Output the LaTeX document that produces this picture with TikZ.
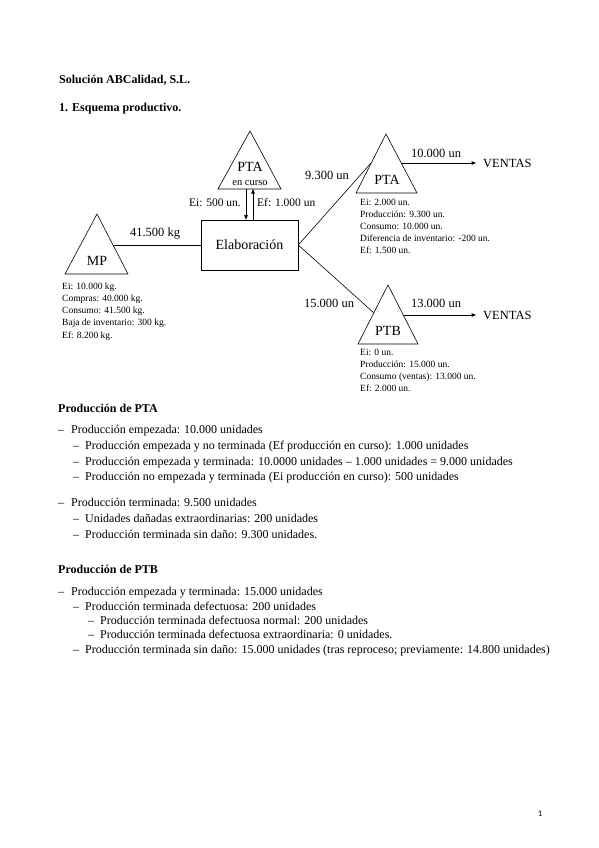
\documentclass[tikz,border=0pt]{standalone}
\usepackage{fontspec}
\setmainfont{Liberation Serif}
\newfontfamily\pagefont{Carlito}
\usetikzlibrary{arrows.meta}
\newcommand{\itemdash}[1]{\makebox[#1][l]{–}}
\begin{document}
\begin{tikzpicture}[x=1pt,y=-1pt,
  lbl/.style={font=\fontsize{12.5}{14}\selectfont, inner sep=0pt},
  small/.style={font=\fontsize{11.5}{13}\selectfont, inner sep=0pt},
  big/.style={font=\fontsize{14}{16}\selectfont, inner sep=0pt},
  tri/.style={draw, line width=0.6pt, line join=miter},
  info/.style={font=\fontsize{9.5}{12.2}\selectfont, align=left, anchor=north west, inner sep=0pt},
  body/.style={font=\fontsize{12}{14}\selectfont, anchor=base west, inner sep=0pt},
  head/.style={font=\bfseries\fontsize{12}{14}\selectfont, anchor=base west, inner sep=0pt},
  conn/.style={line width=0.6pt},
  arr/.style={-{Triangle[length=4.5pt,width=3.5pt]}}]
\useasboundingbox (0,0) rectangle (599,848);

% headings
\node[head] (title) at (59,84) {Solución ABCalidad, S.L.};
\node[head] (sec1) at (59,112) {1.\hspace{4pt}Esquema productivo.};

% MP
\draw[tri] (97,214) -- (128,274) -- (65,274) -- cycle;
\node[big] (mp) at (97,261) {MP};
\coordinate (mpout) at (113,245);
\node[info] (mpinfo) at (62,282.5) {Ei: 10.000 kg.\\Compras: 40.000 kg.\\Consumo: 41.500 kg.\\Baja de inventario: 300 kg.\\Ef: 8.200 kg.};

% Elaboracion
\node[draw, line width=0.6pt, minimum width=97pt, minimum height=50pt, big] (elab) at (249.5,245) {Elaboración};
\draw[conn] (mpout) -- (elab.west);
\node[lbl] (l41) at (155,234) {41.500 kg};

% PTA en curso
\draw[tri] (250,131) -- (281,189) -- (218,189) -- cycle;
\node[big] (ptac) at (250,167) {PTA};
\node[font=\fontsize{10.5}{12}\selectfont, inner sep=0pt] (encurso) at (250,183) {en curso};
\coordinate (ptacb1) at (246,189);
\coordinate (ptacb2) at (253,189);
\draw[conn,arr] (ptacb1) -- (elab.north -| ptacb1);
\draw[conn,arr] (elab.north -| ptacb2) -- (ptacb2);
\node[small, anchor=east] (ei) at (241,203) {Ei: 500 un.};
\node[small, anchor=west] (ef) at (257,203) {Ef: 1.000 un};

% PTA
\draw[tri] (386,134) -- (417,193) -- (356,193) -- cycle;
\node[big] (pta) at (387,180) {PTA};
\coordinate (ptain) at (371,163);
\draw[conn] (elab.east) -- (ptain);
\node[lbl] (l93) at (327,175) {9.300 un};
\coordinate (ptaout) at (401,163);
\coordinate (v1) at (476,163);
\draw[conn,arr] (ptaout) -- (v1);
\node[lbl, anchor=west] (ventas1) at (483,163) {VENTAS};
\node[lbl] (l10) at (436,153) {10.000 un};
\node[info] (ptainfo) at (360,198.5) {Ei: 2.000 un.\\Producción: 9.300 un.\\Consumo: 10.000 un.\\Diferencia de inventario: -200 un.\\Ef: 1.500 un.};

% PTB
\draw[tri] (388,285) -- (418,344) -- (358,344) -- cycle;
\node[big] (ptb) at (388,331) {PTB};
\coordinate (ptbin) at (374,313);
\draw[conn] (elab.east) -- (ptbin);
\node[lbl] (l15) at (329,303) {15.000 un};
\coordinate (ptbout) at (403,315);
\coordinate (v2) at (476,315);
\draw[conn,arr] (ptbout) -- (v2);
\node[lbl, anchor=west] (ventas2) at (483,315) {VENTAS};
\node[lbl] (l13) at (436,303) {13.000 un};
\node[info] (ptbinfo) at (360,348.5) {Ei: 0 un.\\Producción: 15.000 un.\\Consumo (ventas): 13.000 un.\\Ef: 2.000 un.};

% Produccion de PTA
\node[head] (hpta) at (58,412) {Producción de PTA};
\node[body] (a1) at (58,433) {\itemdash{13pt}Producción empezada: 10.000 unidades};
\node[body] (a2) at (73,449) {\itemdash{12pt}Producción empezada y no terminada (Ef producción en curso): 1.000 unidades};
\node[body] (a3) at (73,465) {\itemdash{12pt}Producción empezada y terminada: 10.0000 unidades – 1.000 unidades = 9.000 unidades};
\node[body] (a4) at (73,480) {\itemdash{12pt}Producción no empezada y terminada (Ei producción en curso): 500 unidades};
\node[body] (a5) at (58,506) {\itemdash{13pt}Producción terminada: 9.500 unidades};
\node[body] (a6) at (73,522) {\itemdash{12pt}Unidades dañadas extraordinarias: 200 unidades};
\node[body] (a7) at (73,538) {\itemdash{12pt}Producción terminada sin daño: 9.300 unidades.};

% Produccion de PTB
\node[head] (hptb) at (58,573) {Producción de PTB};
\node[body] (b1) at (58,595) {\itemdash{13pt}Producción empezada y terminada: 15.000 unidades};
\node[body] (b2) at (73,610) {\itemdash{12pt}Producción terminada defectuosa: 200 unidades};
\node[body] (b3) at (88,624) {\itemdash{12pt}Producción terminada defectuosa normal: 200 unidades};
\node[body] (b4) at (88,638) {\itemdash{12pt}Producción terminada defectuosa extraordinaria: 0 unidades.};
\node[body] (b5) at (73,653) {\itemdash{12pt}Producción terminada sin daño: 15.000 unidades (tras reproceso; previamente: 14.800 unidades)};

% page number
\node[font=\pagefont\fontsize{8.5}{10}\selectfont, inner sep=0pt] (pg) at (540,814) {1};
\end{tikzpicture}
\end{document}
